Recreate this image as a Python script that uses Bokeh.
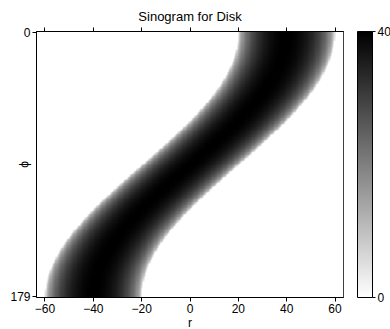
import numpy as np
from bokeh.plotting import figure
from bokeh.models import (LinearColorMapper, ColorBar, FixedTicker, LinearAxis,
                          Range1d)
from bokeh.palettes import Greys256
from bokeh.embed import file_html
from bokeh.resources import INLINE

# ---- data ----
title_text = "Sinogram for Disk"
r_min, r_max, r_step = -63.5, 63.5, 0.5     # detector axis r
phi_values = np.arange(0, 180)               # projection angles (degrees)
disk_radius = 20.0                           # band half-width -> peak value 40
disk_center_x = 40.0                         # band centre at phi=0 is r=40
disk_center_y = 0.0
x_ticks = [-60, -40, -20, 0, 20, 40, 60]
y_ticks = [0, 179]
cbar_ticks = [0, 40]
value_low, value_high = 0, 40

r_values = np.arange(r_min + r_step / 2, r_max, r_step)

# Radon transform of the disk: chord length through the disk
phi_rad = np.deg2rad(phi_values)
centre = disk_center_x * np.cos(phi_rad) + disk_center_y * np.sin(phi_rad)
d = r_values[None, :] - centre[:, None]
sino = 2.0 * np.sqrt(np.clip(disk_radius ** 2 - d ** 2, 0, None))

FONT = "Liberation Sans"
palette = list(reversed(Greys256))
mapper = LinearColorMapper(palette=palette, low=value_low, high=value_high)

p = figure(frame_width=307, frame_height=266,
           x_range=Range1d(r_min, r_max),
           y_range=Range1d(phi_values[-1] + 0.5, phi_values[0] - 0.5),
           output_backend="svg", toolbar_location=None,
           min_border_left=36, min_border_top=31, min_border_bottom=32,
           min_border_right=0)

p.image(image=[sino], x=r_min, y=phi_values[0] - 0.5,
        dw=r_max - r_min, dh=len(phi_values), color_mapper=mapper)

p.title.text = title_text
p.title.align = "center"
p.title.text_font = FONT
p.title.text_font_size = "13px"
p.title.text_font_style = "normal"
p.title.text_color = "black"
p.title.standoff = 8

p.grid.visible = False
p.outline_line_color = "black"
p.outline_line_alpha = 1

minus = {t: (str(t).replace("-", "\u2212")) for t in x_ticks}

xa = p.xaxis[0]
xa.ticker = FixedTicker(ticks=x_ticks)
xa.major_label_overrides = minus
xa.axis_label = "r"
ya = p.yaxis[0]
ya.ticker = FixedTicker(ticks=y_ticks)
ya.axis_label = "\u03d5"

top = LinearAxis(ticker=FixedTicker(ticks=x_ticks))
p.add_layout(top, "above")

for ax in [xa, ya, top]:
    ax.minor_tick_line_color = None
    ax.major_tick_in = 0
    ax.major_tick_out = 4
    ax.axis_line_color = "black"
    ax.major_tick_line_color = "black"
    ax.major_label_text_font = FONT
    ax.major_label_text_font_size = "12px"
    ax.major_label_text_color = "black"
    ax.axis_label_text_font = FONT
    ax.axis_label_text_font_size = "12px"
    ax.axis_label_text_font_style = "normal"
    ax.axis_label_text_color = "black"
    ax.major_label_standoff = 2
xa.axis_label_standoff = 0
ya.axis_label_standoff = -24
ya.major_label_orientation = "horizontal"
top.major_label_text_font_size = "0px"
top.major_label_text_alpha = 0
top.major_label_standoff = 0

cb = ColorBar(color_mapper=mapper, ticker=FixedTicker(ticks=cbar_ticks),
              width=15, margin=0, padding=0,
              bar_line_color="black", major_tick_line_color="black",
              major_tick_in=0, major_tick_out=3, label_standoff=2,
              major_label_text_font=FONT, major_label_text_font_size="12px",
              major_label_text_color="black", location=(14, 0))
p.add_layout(cb, "right")

open("out.html", "w").write(file_html(p, INLINE))
